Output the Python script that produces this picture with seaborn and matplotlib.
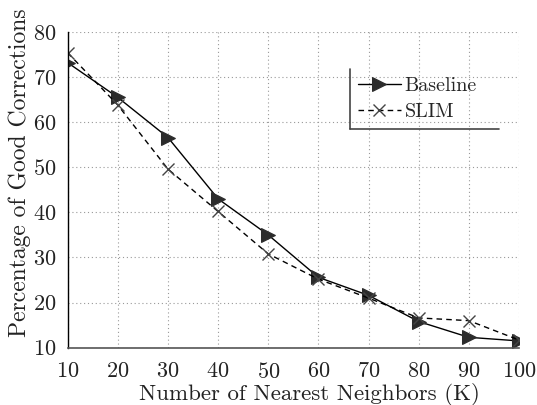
import matplotlib
matplotlib.use("Agg")
import matplotlib.pyplot as plt
from matplotlib.lines import Line2D
import pandas as pd
import seaborn as sns

k_values = [10, 20, 30, 40, 50, 60, 70, 80, 90, 100]
baseline = [73.2, 65.5, 56.6, 43.0, 35.0, 25.6, 21.6, 15.8, 12.3, 11.5]
slim = [75.4, 63.8, 49.6, 40.2, 30.8, 25.2, 21.0, 16.6, 16.0, 11.7]

x_ticks = [10, 20, 30, 40, 50, 60, 70, 80, 90, 100]
y_ticks = [10, 20, 30, 40, 50, 60, 70, 80]

sns.set_style("white")
plt.rcParams["font.family"] = ["cmr10", "DejaVu Serif"]
plt.rcParams["mathtext.fontset"] = "cm"
plt.rcParams["axes.formatter.use_mathtext"] = True

df = pd.DataFrame({"K": k_values, "Baseline": baseline, "SLIM": slim})

fig = plt.figure(figsize=(5.37, 4.05), dpi=100)
ax = fig.add_axes([0.126, 0.1415, 0.8405, 0.7795])

sns.lineplot(data=df, x="K", y="Baseline", ax=ax, color="black", lw=1.0,
             marker=">", markersize=10, markerfacecolor="#2b2b2b",
             markeredgecolor="#2b2b2b", label="Baseline")
sns.lineplot(data=df, x="K", y="SLIM", ax=ax, color="black", lw=1.0,
             linestyle=(0, (4, 3)), marker="x", markersize=8,
             markeredgecolor="#444444", markeredgewidth=1.0, label="SLIM")

ax.set_xlim(10, 100)
ax.set_ylim(10, 80)
ax.set_xticks(x_ticks)
ax.set_yticks(y_ticks)
ax.grid(True, linestyle=(0, (1, 2.5)), color="#999999", lw=0.8)
ax.set_axisbelow(True)

for side in ("top", "right"):
    ax.spines[side].set_visible(False)
ax.spines["left"].set_color("black")
ax.spines["bottom"].set_color("#555555")
ax.spines["left"].set_linewidth(1.0)
ax.spines["bottom"].set_linewidth(1.2)

ax.tick_params(axis="both", direction="out", length=6, width=1.0,
               color="#666666", labelsize=16, labelcolor="#222222")
ax.tick_params(axis="x", pad=4)
ax.tick_params(axis="y", pad=2)

ax.set_xlabel("Number of Nearest Neighbors (K)", fontsize=16.5, color="#222222")
ax.xaxis.set_label_coords(0.535, -0.113)
ax.set_ylabel("Percentage of Good Corrections", fontsize=17, color="#222222")
ax.yaxis.set_label_coords(-0.082, 0.555)

leg = ax.legend(loc="upper left", bbox_to_anchor=(0.626, 0.883), frameon=False,
                fontsize=14.5, handlelength=2.1, handletextpad=0.2,
                borderaxespad=0, borderpad=0.4, labelspacing=0.38)

# open legend frame: left and bottom rules only
fig.canvas.draw()
bb = leg.get_window_extent().transformed(fig.transFigure.inverted())
extra = 14 / (fig.get_figwidth() * fig.dpi)
fig.add_artist(Line2D([bb.x0, bb.x0], [bb.y0, bb.y1], transform=fig.transFigure,
                      color="#444444", lw=1.2))
fig.add_artist(Line2D([bb.x0, bb.x1 + extra], [bb.y0, bb.y0], transform=fig.transFigure,
                      color="#444444", lw=1.2))

fig.savefig("out.png", dpi=100)
